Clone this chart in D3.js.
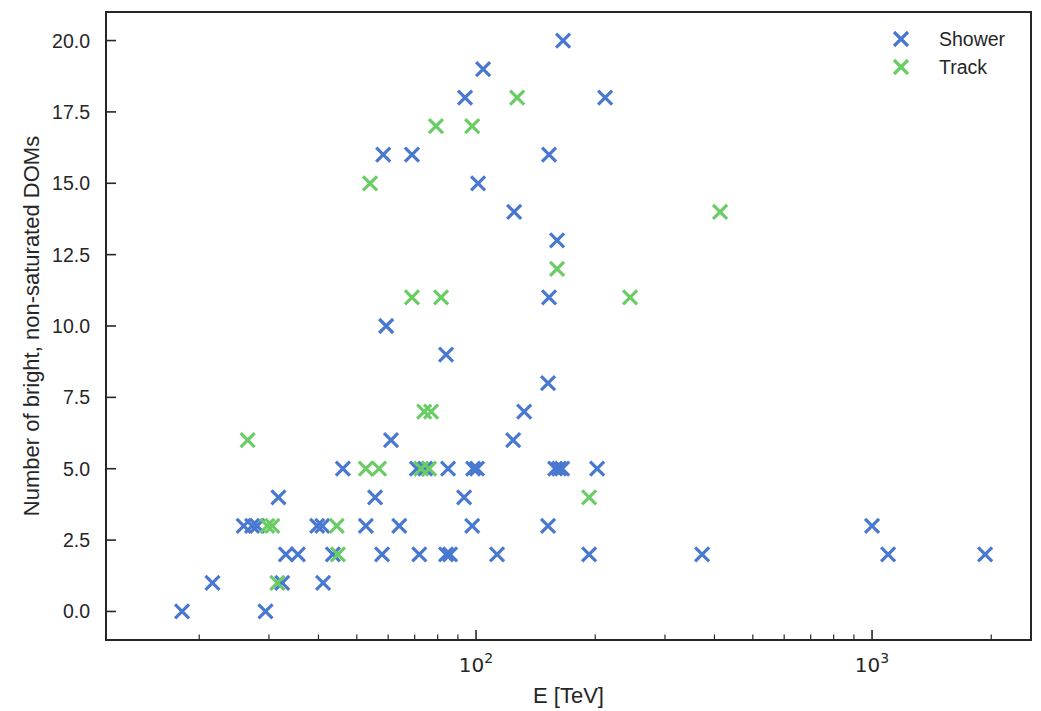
<!DOCTYPE html>
<html>
<head>
<meta charset="utf-8">
<script src="https://cdn.jsdelivr.net/npm/d3@7"></script>
<style>
  html, body { margin: 0; padding: 0; background: #ffffff; }
  svg { display: block; }
</style>
</head>
<body>
<svg id="chart" width="1041" height="711"></svg>
<script>
// ---- data ----
const seriesNames = ["Shower", "Track"];
const seriesColors = ["#4878d0", "#6acc64"];

const showerE = [18.1, 29.4,
  21.6, 32.4, 41.1,
  33.1, 35.5, 43.5, 57.9, 71.9, 84.0, 86.0, 113.0, 193.0, 372.3, 1098, 1930,
  25.9, 27.2, 28.0, 39.7, 40.9, 52.7, 64.0, 97.8, 152.0, 1000,
  31.7, 55.6, 93.3,
  46.1, 70.9, 74.4, 85.0, 98.3, 100.6, 158.4, 162.1, 165.0, 202.2,
  61.0, 124.1,
  132.3,
  152.0,
  84.0,
  59.3,
  152.9,
  160.2,
  124.8,
  101.2,
  58.3, 68.9, 152.9,
  93.8, 211.8,
  104.2,
  165.9];
const showerN = [0, 0,
  1, 1, 1,
  2, 2, 2, 2, 2, 2, 2, 2, 2, 2, 2, 2,
  3, 3, 3, 3, 3, 3, 3, 3, 3, 3,
  4, 4, 4,
  5, 5, 5, 5, 5, 5, 5, 5, 5, 5,
  6, 6,
  7,
  8,
  9,
  10,
  11,
  13,
  14,
  15,
  16, 16, 16,
  18, 18,
  19,
  20];

const trackE = [31.5, 44.8, 29.7, 30.6, 44.5, 193.0, 52.7, 56.9, 72.7, 76.1, 26.5,
  74.0, 77.0, 68.9, 81.6, 244.9, 160.2, 413.3, 54.0, 79.2, 97.8, 127.0];
const trackN = [1, 2, 3, 3, 3, 4, 5, 5, 5, 5, 6,
  7, 7, 11, 11, 11, 12, 14, 15, 17, 17, 18];

const yTicks = [0, 2.5, 5, 7.5, 10, 12.5, 15, 17.5, 20];
const xMajorTicks = [100, 1000];
const xMajorExp = ["2", "3"];
const xMinorTicks = [20, 30, 40, 50, 60, 70, 80, 90, 200, 300, 400, 500, 600, 700, 800, 900, 2000];
const xLabel = "E [TeV]";
const yLabel = "Number of bright, non-saturated DOMs";

(function () {
// ---- layout ----
const pL = 106, pR = 1031, pT = 12, pB = 640;
const ink = "#262626";

const svg = d3.select("#chart");
const x = d3.scaleLog().domain([11.63, 2520]).range([pL, pR]);
const y = d3.scaleLinear().domain([-1, 21]).range([pB, pT]);

// ticks (inward)
const gx = svg.append("g");
gx.selectAll("line.maj").data(xMajorTicks).enter().append("line")
  .attr("class", "maj")
  .attr("x1", d => x(d)).attr("x2", d => x(d))
  .attr("y1", pB).attr("y2", pB - 10)
  .attr("stroke", ink).attr("stroke-width", 1.6);
gx.selectAll("line.min").data(xMinorTicks).enter().append("line")
  .attr("class", "min")
  .attr("x1", d => x(d)).attr("x2", d => x(d))
  .attr("y1", pB).attr("y2", pB - 5.5)
  .attr("stroke", ink).attr("stroke-width", 1.2);
const xt = gx.selectAll("text").data(xMajorTicks).enter().append("text")
  .attr("x", d => x(d)).attr("y", 672)
  .attr("text-anchor", "middle")
  .attr("font-family", "DejaVu Sans, sans-serif")
  .attr("font-size", 20).attr("fill", ink);
xt.append("tspan").text("10");
xt.append("tspan").attr("font-size", 14).attr("dy", -9).text((d, i) => xMajorExp[i]);

const gy = svg.append("g");
gy.selectAll("line").data(yTicks).enter().append("line")
  .attr("x1", pL).attr("x2", pL + 10)
  .attr("y1", d => y(d)).attr("y2", d => y(d))
  .attr("stroke", ink).attr("stroke-width", 1.6);
gy.selectAll("text").data(yTicks).enter().append("text")
  .attr("x", 90).attr("y", d => y(d) + 7)
  .attr("text-anchor", "end")
  .attr("font-family", "Liberation Sans, Arial, sans-serif")
  .attr("font-size", 19.5).attr("fill", ink)
  .text(d => d3.format(".1f")(d));

// axis labels
svg.append("text")
  .attr("x", (pL + pR) / 2).attr("y", 703)
  .attr("text-anchor", "middle")
  .attr("font-family", "Liberation Sans, Arial, sans-serif")
  .attr("font-size", 22).attr("fill", ink)
  .text(xLabel);
svg.append("text")
  .attr("transform", `translate(39, ${(pT + pB) / 2}) rotate(-90)`)
  .attr("text-anchor", "middle")
  .attr("font-family", "Liberation Sans, Arial, sans-serif")
  .attr("font-size", 22).attr("fill", ink)
  .text(yLabel);

// markers
const r = 7;
function crosses(g, E, N, color) {
  const pts = E.map((e, i) => ({e: e, n: N[i]}));
  const m = g.selectAll("g.pt").data(pts).enter().append("g")
    .attr("class", "pt")
    .attr("transform", d => `translate(${x(d.e)},${y(d.n)})`);
  m.append("path")
    .attr("d", `M${-r},${-r}L${r},${r}M${-r},${r}L${r},${-r}`)
    .attr("stroke", color).attr("stroke-width", 3.2)
    .attr("fill", "none");
}
const plot = svg.append("g");
crosses(plot.append("g"), showerE, showerN, seriesColors[0]);
crosses(plot.append("g"), trackE, trackN, seriesColors[1]);

// frame
svg.append("rect")
  .attr("x", pL).attr("y", pT)
  .attr("width", pR - pL).attr("height", pB - pT)
  .attr("fill", "none").attr("stroke", ink).attr("stroke-width", 2);

// legend
const lg = svg.append("g");
seriesNames.forEach((name, i) => {
  const cy = 39 + i * 28;
  lg.append("path")
    .attr("d", `M${901 - r},${cy - r}L${901 + r},${cy + r}M${901 - r},${cy + r}L${901 + r},${cy - r}`)
    .attr("stroke", seriesColors[i]).attr("stroke-width", 3.2).attr("fill", "none");
  lg.append("text")
    .attr("x", 939).attr("y", cy + 7)
    .attr("font-family", "Liberation Sans, Arial, sans-serif")
    .attr("font-size", 19.5).attr("fill", ink)
    .text(name);
});
})();
</script>
</body>
</html>
